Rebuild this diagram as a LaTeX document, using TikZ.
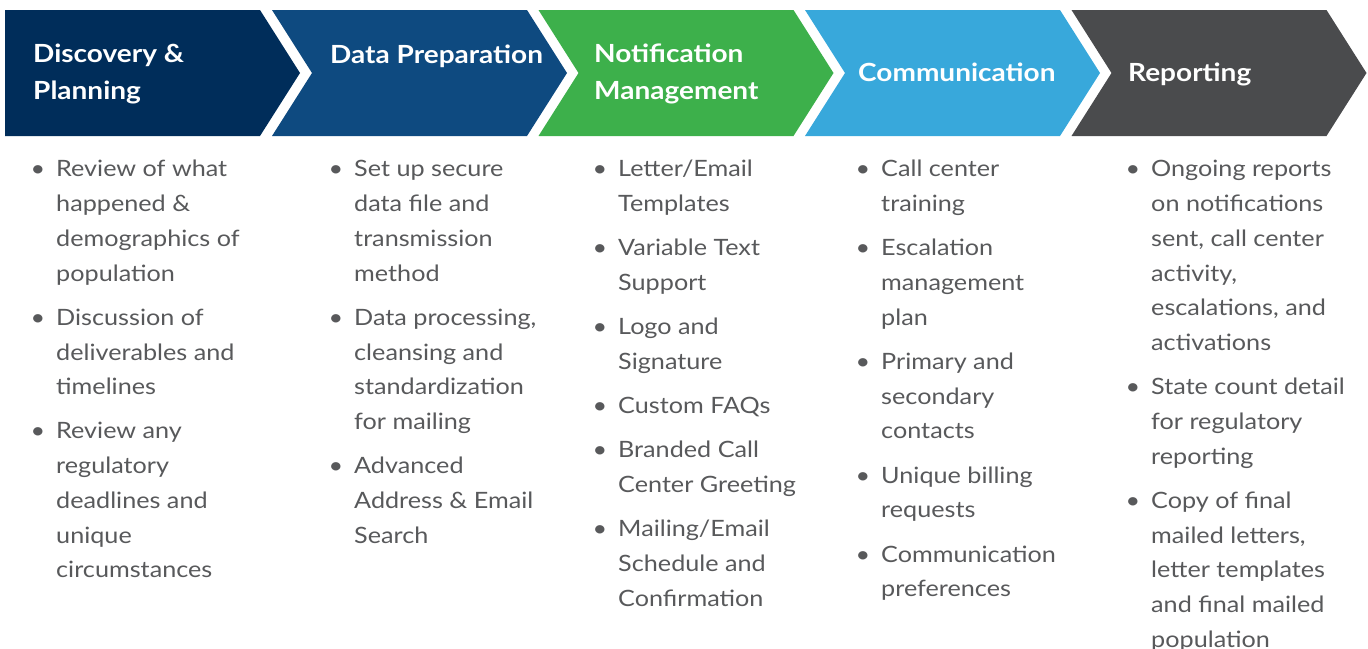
\documentclass[tikz,border=0pt]{standalone}
\usepackage{fontspec}
\usepackage{xcolor}
\setmainfont{Lato}[FakeStretch=1.12]
\usetikzlibrary{positioning}

\definecolor{stepnavy}{HTML}{002D5A}
\definecolor{stepblue}{HTML}{0E4A80}
\definecolor{stepgreen}{HTML}{3DB04B}
\definecolor{stepsky}{HTML}{38A8DB}
\definecolor{stepgray}{HTML}{4A4B4D}
\definecolor{bodygray}{HTML}{58595B}

\newcommand{\bul}{\makebox[0pt][r]{\textbullet\hspace{11pt}}}
\newcommand{\itm}[1]{\strut\bul#1\strut}
\newcommand{\hdr}[1]{\strut#1\strut}

\begin{document}
\begin{tikzpicture}[
    x=1pt, y=-1pt,
    head/.style={anchor=west, inner sep=0pt, text=white, align=left, font=\fontsize{25}{37}\selectfont\bfseries},
    item/.style={anchor=north west, inner sep=0pt, text=bodygray, align=left, font=\fontsize{22.5}{34.75}\selectfont},
    gap/.style={below=9pt of #1.south west, anchor=north west}
]
    \useasboundingbox (0,0) rectangle (1368,648);

    % Chevrons
    \fill[stepnavy] (5,10) -- (260,10) -- (300,73) -- (260,136) -- (5,136) -- cycle;
    \foreach \x/\c in {272/stepblue, 538.5/stepgreen, 805/stepsky, 1071.5/stepgray}
        \fill[\c] (\x,10) -- ++(255,0) -- ++(40,63) -- ++(-40,63) -- ++(-255,0) -- ++(40,-63) -- cycle;

    % Headers
    \node (disc) [head] at (33,74) {\hdr{Discovery \&\\Planning}};
    \node (prep) [head] at (330,55.6) {\hdr{Data Preparation}};
    \node (note) [head] at (594,74) {\hdr{Notification\\Management}};
    \node (comm) [head] at (858,73.6) {\hdr{Communication}};
    \node (rep) [head] at (1128,73.6) {\hdr{Reporting}};

    % Discovery & Planning
    \node (disc1) [item] at (56,152.4) {\itm{Review of what\\happened \&\\demographics of\\population}};
    \node (disc2) [item, gap=disc1] {\itm{Discussion of\\deliverables and\\timelines}};
    \node (disc3) [item, gap=disc2] {\itm{Review any\\regulatory\\deadlines and\\unique\\circumstances}};

    % Data Preparation
    \node (prep1) [item] at (354,152.4) {\itm{Set up secure\\data file and\\transmission\\method}};
    \node (prep2) [item, gap=prep1] {\itm{Data processing,\\cleansing and\\standardization\\for mailing}};
    \node (prep3) [item, gap=prep2] {\itm{Advanced\\Address \& Email\\Search}};

    % Notification Management
    \node (note1) [item] at (618,152.4) {\itm{Letter/Email\\Templates}};
    \node (note2) [item, gap=note1] {\itm{Variable Text\\Support}};
    \node (note3) [item, gap=note2] {\itm{Logo and\\Signature}};
    \node (note4) [item, gap=note3] {\itm{Custom FAQs}};
    \node (note5) [item, gap=note4] {\itm{Branded Call\\Center Greeting}};
    \node (note6) [item, gap=note5] {\itm{Mailing/Email\\Schedule and\\Confirmation}};

    % Communication
    \node (comm1) [item] at (881,152.4) {\itm{Call center\\training}};
    \node (comm2) [item, gap=comm1] {\itm{Escalation\\management\\plan}};
    \node (comm3) [item, gap=comm2] {\itm{Primary and\\secondary\\contacts}};
    \node (comm4) [item, gap=comm3] {\itm{Unique billing\\requests}};
    \node (comm5) [item, gap=comm4] {\itm{Communication\\preferences}};

    % Reporting
    \node (rep1) [item] at (1151,152.4) {\itm{Ongoing reports\\on notifications\\sent, call center\\activity,\\escalations, and\\activations}};
    \node (rep2) [item, gap=rep1] {\itm{State count detail\\for regulatory\\reporting}};
    \node (rep3) [item, gap=rep2] {\itm{Copy of final\\mailed letters,\\letter templates\\and final mailed\\population}};

\end{tikzpicture}
\end{document}
